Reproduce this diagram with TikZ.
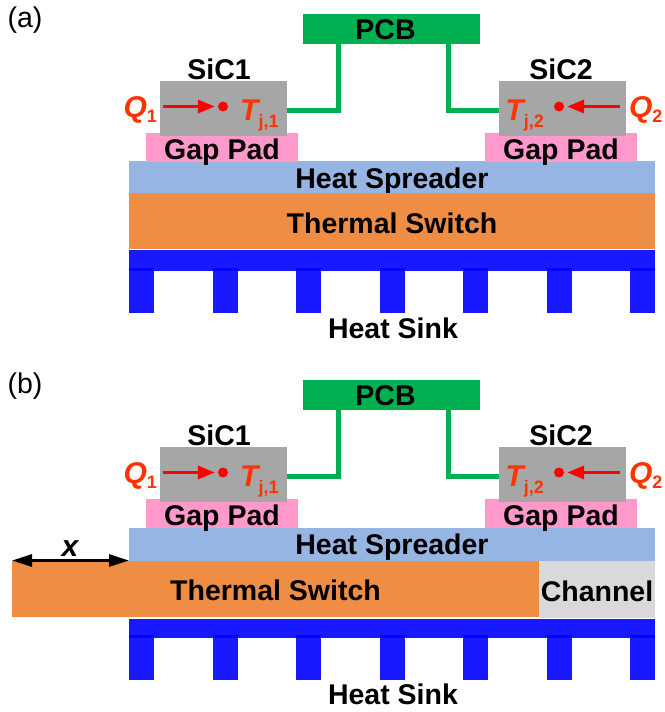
\documentclass[tikz,border=0pt]{standalone}
\usepackage{fontspec}
\setmainfont{Liberation Sans}
\usetikzlibrary{positioning,arrows.meta}
\definecolor{pcbgreen}{HTML}{00B050}
\definecolor{padpink}{HTML}{FF99CC}
\definecolor{spreadblue}{HTML}{97B5E2}
\definecolor{switchorange}{HTML}{EE8D43}
\definecolor{chipgray}{HTML}{A6A6A6}
\definecolor{channelgray}{HTML}{D9D9D9}
\definecolor{heatred}{HTML}{FF3300}
\newcommand{\subtxt}[2]{\raisebox{#1}{\fontsize{18}{18}\selectfont\upshape #2}}
\tikzset{
  layer/.style={inner sep=0pt, outer sep=0pt, text height=20pt, text depth=0pt,
    font=\fontsize{28.5}{30}\selectfont\bfseries},
  pcb/.style={layer, fill=pcbgreen, minimum width=177pt, minimum height=30pt},
  chip/.style={layer, fill=chipgray, minimum width=127pt, minimum height=55pt},
  gappad/.style={layer, fill=padpink, text height=23pt, minimum width=152pt, minimum height=29pt},
  spreader/.style={layer, fill=spreadblue, text height=21pt, minimum width=526pt, minimum height=33pt},
  switch/.style={layer, fill=switchorange, text height=24pt, minimum height=56pt},
  channel/.style={layer, fill=channelgray, text height=24pt, minimum width=116pt, minimum height=57pt},
  sinkbase/.style={fill=blue, fill opacity=.9, inner sep=0pt, outer sep=0pt, minimum width=526pt},
  fin/.style={fill=blue, fill opacity=.9, inner sep=0pt, outer sep=0pt, minimum width=25pt, minimum height=45pt},
  caption/.style={layer},
  heat/.style={layer, text=heatred, text height=21pt, font=\fontsize{30}{30}\selectfont\bfseries\itshape},
  hotspot/.style={circle, fill=red, inner sep=0pt, minimum size=10pt},
  wire/.style={draw=pcbgreen, line width=5pt},
  flow/.style={draw=red, line width=3.5pt, -{Triangle[length=17pt,width=13pt]}},
  panel/.style={inner sep=0pt, font=\fontsize{28.5}{30}\selectfont},
}
\begin{document}
\begin{tikzpicture}[x=1pt,y=-1pt]
    \useasboundingbox (0,0) rectangle (664,712);
    % panel (a)
    \node[panel] (labA) at (25,20) {(a)};
    \coordinate (wA1) at (338,44);
    \coordinate (wA2) at (448,44);
    \node[spreader] (spreadA) at (392,177.5) {Heat Spreader};
    \node[switch, minimum width=526pt] (switchA) [below=-1pt of spreadA] {Thermal Switch};
    \node[sinkbase, minimum height=21pt] (baseA) [below=1pt of switchA] {};
    \node[fin] (finA1) at (141.5,290.5) {};
    \node[fin] (finA2) [right=58.5pt of finA1] {};
    \node[fin] (finA3) [right=58.5pt of finA2] {};
    \node[fin] (finA4) [right=58.5pt of finA3] {};
    \node[fin] (finA5) [right=58.5pt of finA4] {};
    \node[fin] (finA6) [right=58.5pt of finA5] {};
    \node[fin] (finA7) [right=58.5pt of finA6] {};
    \node[caption] (sinkA) at (393,328) {Heat Sink};
    \node[gappad] (padA1) at (222,147.5) {Gap Pad};
    \node[gappad] (padA2) at (561,147.5) {Gap Pad};
    \node[chip] (sicA1) [above=-3pt of padA1, xshift=1.5pt] {};
    \node[chip] (sicA2) [above=-3pt of padA2, xshift=1.5pt] {};
    \node[caption] (nameA1) [above=2pt of sicA1, xshift=-4.5pt] {SiC1};
    \node[caption] (nameA2) [above=2pt of sicA2, xshift=-1.5pt] {SiC2};
    \node[pcb] (pcbA) at (391.5,29) {PCB\kern12pt\relax};
    \draw[wire] ([yshift=-2pt]sicA1.east) -| (wA1);
    \draw[wire] ([yshift=-2pt]sicA2.west) -| (wA2);
    \node[hotspot] (dotA1) at (223,106.5) {};
    \node[hotspot] (dotA2) at (559,106.5) {};
    \node[heat] (qA1) [left=3pt of sicA1, yshift=2pt] {Q\subtxt{-5pt}{1}};
    \node[heat] (qA2) [right=3pt of sicA2, yshift=2pt] {Q\subtxt{-5pt}{2}};
    \node[heat] (tA1) [right=12pt of dotA1, yshift=-3pt] {T\subtxt{-7pt}{j,1}};
    \node[heat] (tA2) [left=10pt of dotA2, yshift=-3pt] {T\subtxt{-7pt}{j,2}};
    \draw[flow, shorten <=6pt, shorten >=3pt] (qA1.east |- dotA1) -- (dotA1);
    \draw[flow, shorten <=9pt, shorten >=3pt] (qA2.west |- dotA2) -- (dotA2);
    % panel (b)
    \node[panel] (labB) at (25,386) {(b)};
    \coordinate (wB1) at (338,410);
    \coordinate (wB2) at (448,410);
    \node[spreader] (spreadB) at (392,544) {Heat Spreader};
    \node[switch, minimum width=527pt] (switchB) at (275.5,588.5) {Thermal Switch};
    \node[channel] (chanB) [right=0pt of switchB, yshift=-0.5pt] {Channel};
    \node[sinkbase, minimum height=19pt] (baseB) at (392,628.5) {};
    \node[fin] (finB1) at (141.5,657.5) {};
    \node[fin] (finB2) [right=58.5pt of finB1] {};
    \node[fin] (finB3) [right=58.5pt of finB2] {};
    \node[fin] (finB4) [right=58.5pt of finB3] {};
    \node[fin] (finB5) [right=58.5pt of finB4] {};
    \node[fin] (finB6) [right=58.5pt of finB5] {};
    \node[fin] (finB7) [right=58.5pt of finB6] {};
    \node[caption] (sinkB) at (393,694) {Heat Sink};
    \node[gappad] (padB1) at (222,513.5) {Gap Pad};
    \node[gappad] (padB2) at (561,513.5) {Gap Pad};
    \node[chip] (sicB1) [above=-3pt of padB1, xshift=1.5pt] {};
    \node[chip] (sicB2) [above=-3pt of padB2, xshift=1.5pt] {};
    \node[caption] (nameB1) [above=2pt of sicB1, xshift=-4.5pt] {SiC1};
    \node[caption] (nameB2) [above=2pt of sicB2, xshift=-1.5pt] {SiC2};
    \node[pcb] (pcbB) at (391.5,395) {PCB\kern12pt\relax};
    \draw[wire] ([yshift=-2pt]sicB1.east) -| (wB1);
    \draw[wire] ([yshift=-2pt]sicB2.west) -| (wB2);
    \node[hotspot] (dotB1) at (223,472.5) {};
    \node[hotspot] (dotB2) at (559,472.5) {};
    \node[heat] (qB1) [left=3pt of sicB1, yshift=2pt] {Q\subtxt{-5pt}{1}};
    \node[heat] (qB2) [right=3pt of sicB2, yshift=2pt] {Q\subtxt{-5pt}{2}};
    \node[heat] (tB1) [right=12pt of dotB1, yshift=-3pt] {T\subtxt{-7pt}{j,1}};
    \node[heat] (tB2) [left=10pt of dotB2, yshift=-3pt] {T\subtxt{-7pt}{j,2}};
    \draw[flow, shorten <=6pt, shorten >=3pt] (qB1.east |- dotB1) -- (dotB1);
    \draw[flow, shorten <=9pt, shorten >=3pt] (qB2.west |- dotB2) -- (dotB2);
    \draw[line width=3pt, {Triangle[length=20pt,width=12pt]}-{Triangle[length=20pt,width=12pt]}] (switchB.north west) -- (switchB.north west -| spreadB.west);
    \node[heat, text=black] (shiftB) at (70,546) {x};
\end{tikzpicture}
\end{document}
